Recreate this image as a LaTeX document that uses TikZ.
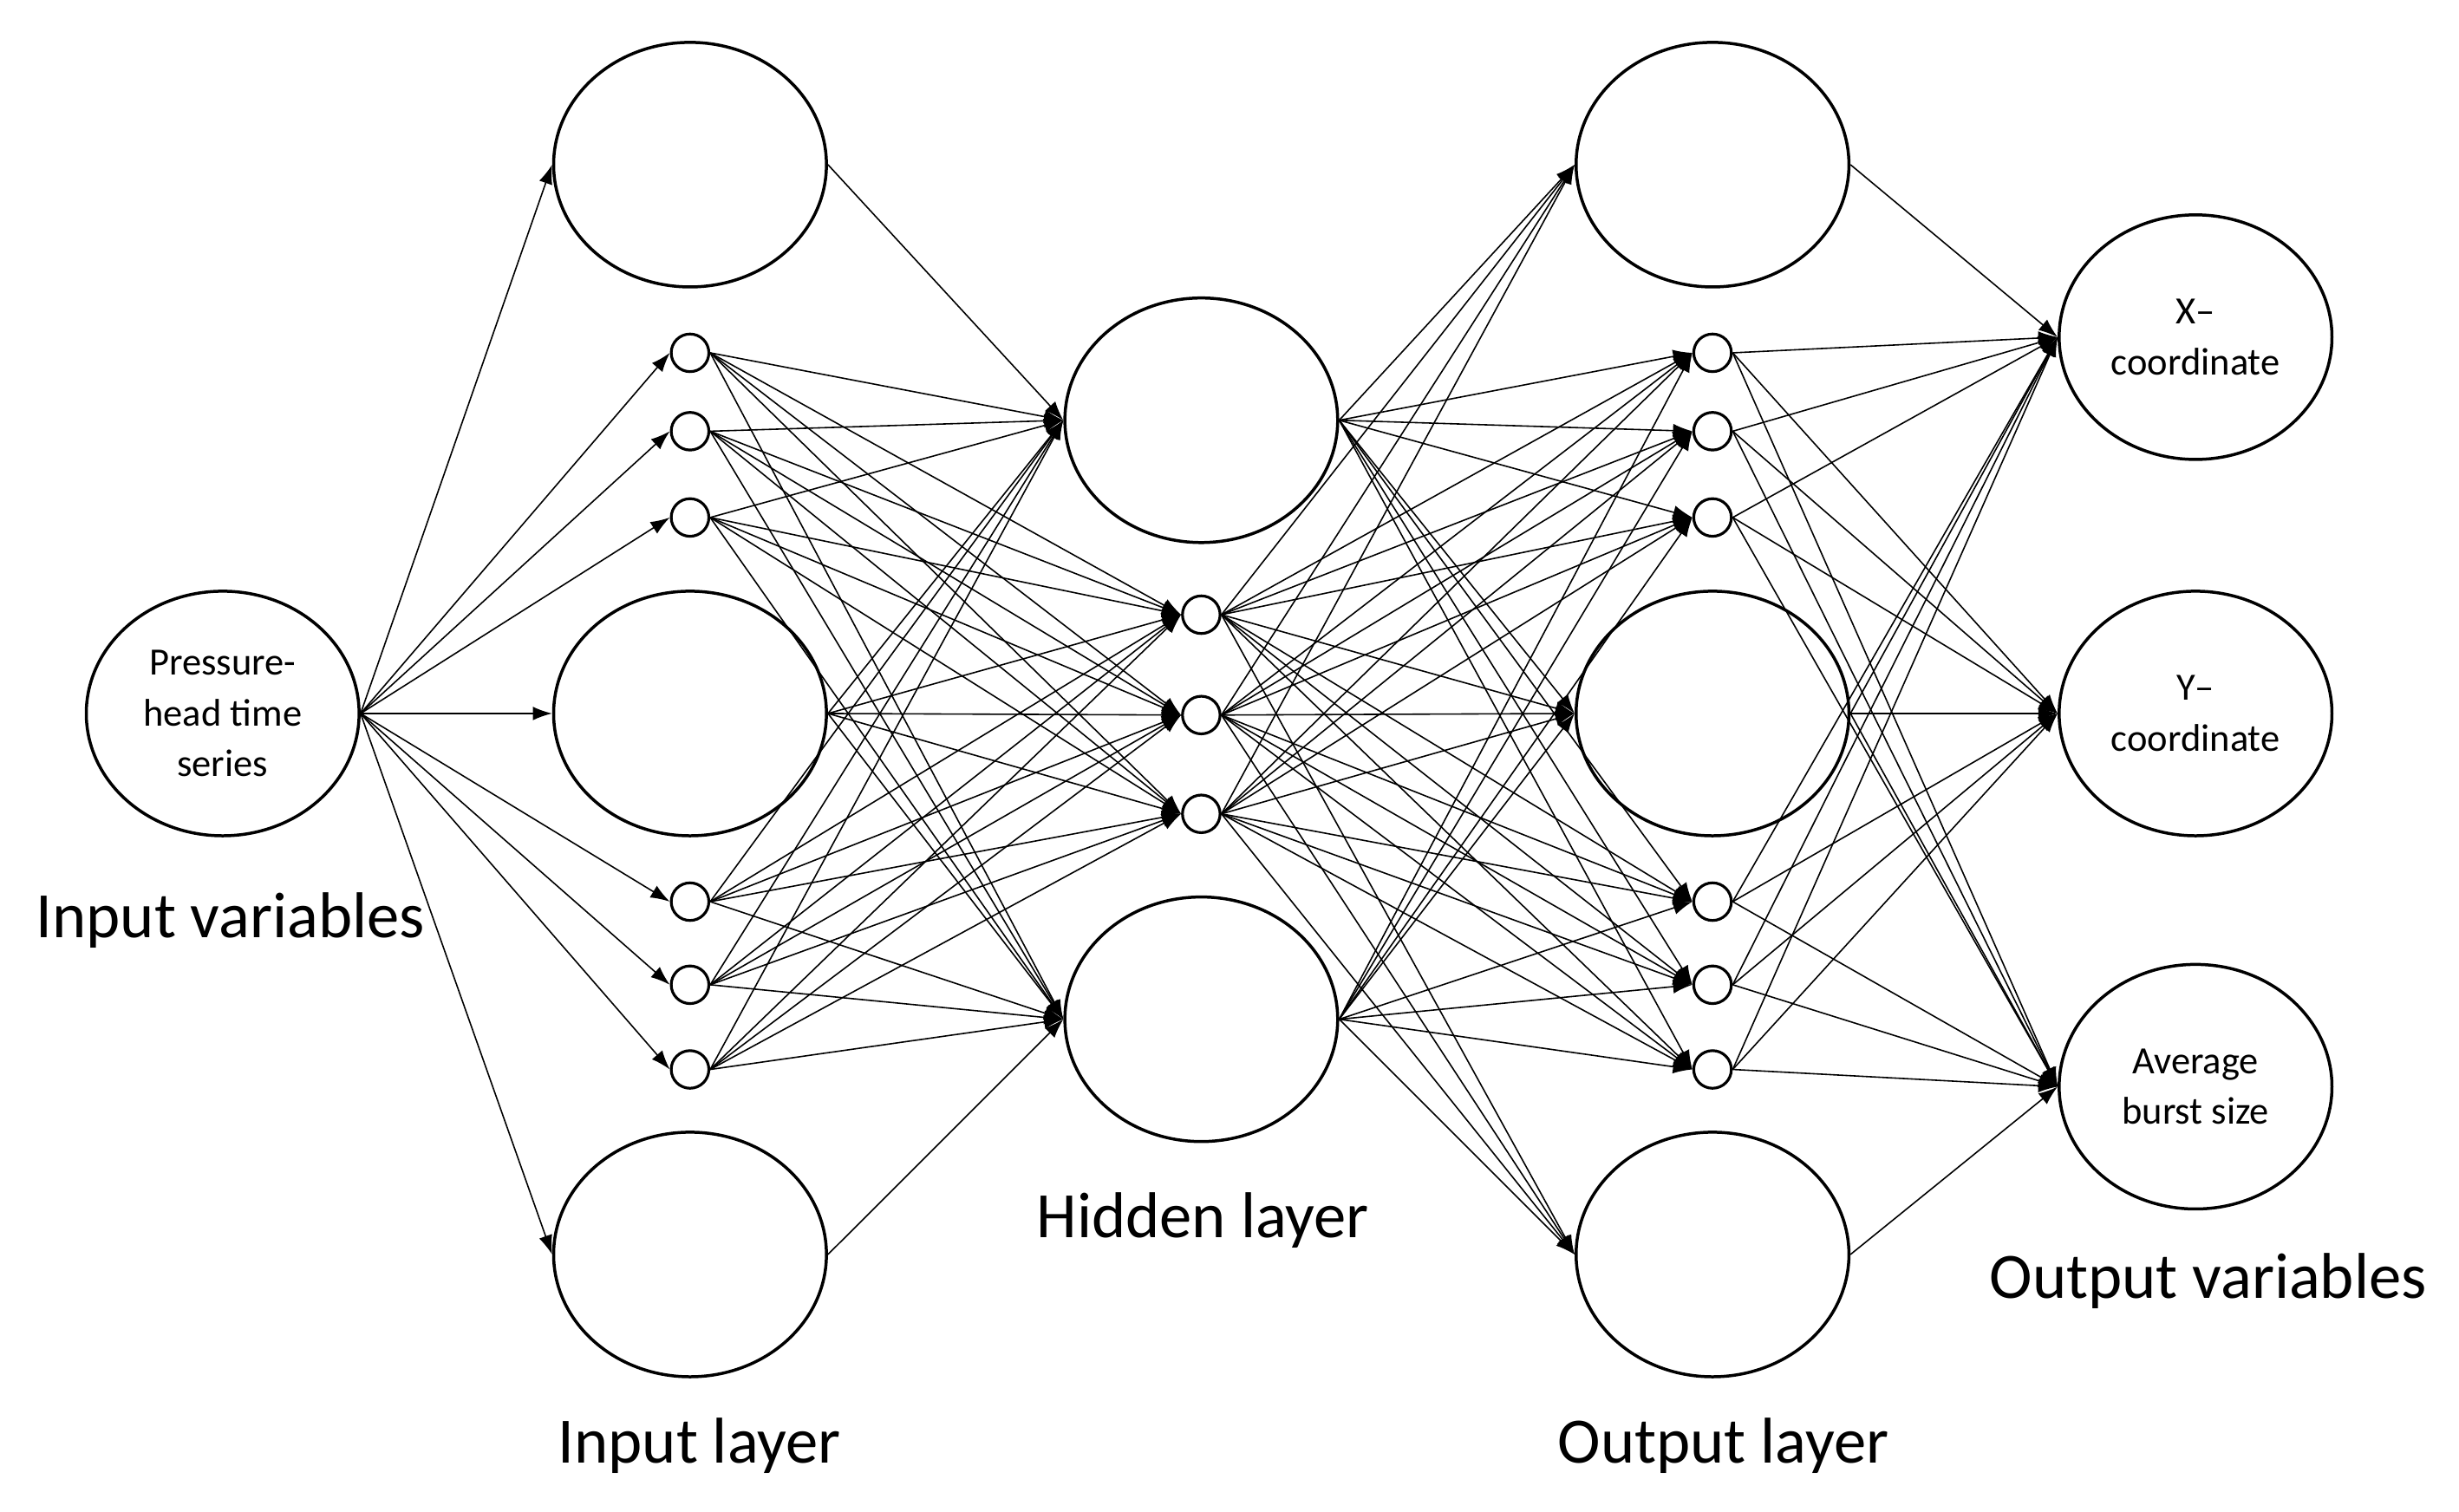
\documentclass[tikz,border=0pt]{standalone}
\usepackage{fontspec}
\setmainfont{Carlito}
\usetikzlibrary{arrows.meta,shapes.geometric}
\begin{document}
\begin{tikzpicture}[x=0.02cm,y=-0.02cm,
 big/.style={draw,line width=1.1pt,ellipse,minimum width=3.48cm,minimum height=3.12cm,inner sep=0pt,align=center,font=\fontsize{14}{18.5}\selectfont},
 sm/.style={draw,line width=1pt,circle,minimum size=0.48cm,inner sep=0pt},
 lab/.style={font=\fontsize{23.5}{26}\selectfont},
 con/.style={-{Latex[length=7pt,width=5pt]},line width=0.5pt}]
\useasboundingbox (0,0) rectangle (1568,964);
\node[big] (iv) at (142,455) {Pressure-\\head time\\series};
\foreach \n/\y in {a/105,b/455,c/800}{\node[big] (i\n) at (440,\y) {};}
\foreach \n/\y in {1/225,2/275,3/330,4/575,5/628,6/682}{\node[sm] (is\n) at (440,\y) {};}
\node[big] (ha) at (766,268) {};
\node[big] (hb) at (766,650) {};
\foreach \n/\y in {1/392,2/456,3/519}{\node[sm] (hs\n) at (766,\y) {};}
\foreach \n/\y in {a/105,b/455,c/800}{\node[big] (o\n) at (1092,\y) {};}
\foreach \n/\y in {1/225,2/275,3/330,4/575,5/628,6/682}{\node[sm] (os\n) at (1092,\y) {};}
\node[big] (ox) at (1400,215) {X--\\coordinate};
\node[big] (oy) at (1400,455) {Y--\\coordinate};
\node[big] (oz) at (1400,693) {Average\\burst size};
\node[lab] at (147,587) {Input variables};
\node[lab] at (446,922) {Input layer};
\node[lab] at (767,778) {Hidden layer};
\node[lab] at (1099,922) {Output layer};
\node[lab] at (1408,817) {Output variables};
\foreach \t in {ia,ib,ic,is1,is2,is3,is4,is5,is6}{\draw[con] (iv.east) -- (\t.west);}
\draw[con] (ia.east) -- (ha.west);
\draw[con] (ic.east) -- (hb.west);
\foreach \s in {ib,is1,is2,is3,is4,is5,is6}{
 \foreach \t in {ha,hb,hs1,hs2,hs3}{\draw[con] (\s.east) -- (\t.west);}}
\foreach \t in {oa,ob,os1,os2,os3,os4,os5,os6}{\draw[con] (ha.east) -- (\t.west);}
\foreach \t in {oc,ob,os1,os2,os3,os4,os5,os6}{\draw[con] (hb.east) -- (\t.west);}
\foreach \s in {hs1,hs2,hs3}{
 \foreach \t in {oa,ob,oc,os1,os2,os3,os4,os5,os6}{\draw[con] (\s.east) -- (\t.west);}}
\draw[con] (oa.east) -- (ox.west);
\draw[con] (oc.east) -- (oz.west);
\foreach \s in {ob,os1,os2,os3,os4,os5,os6}{
 \foreach \t in {ox,oy,oz}{\draw[con] (\s.east) -- (\t.west);}}
\end{tikzpicture}
\end{document}
